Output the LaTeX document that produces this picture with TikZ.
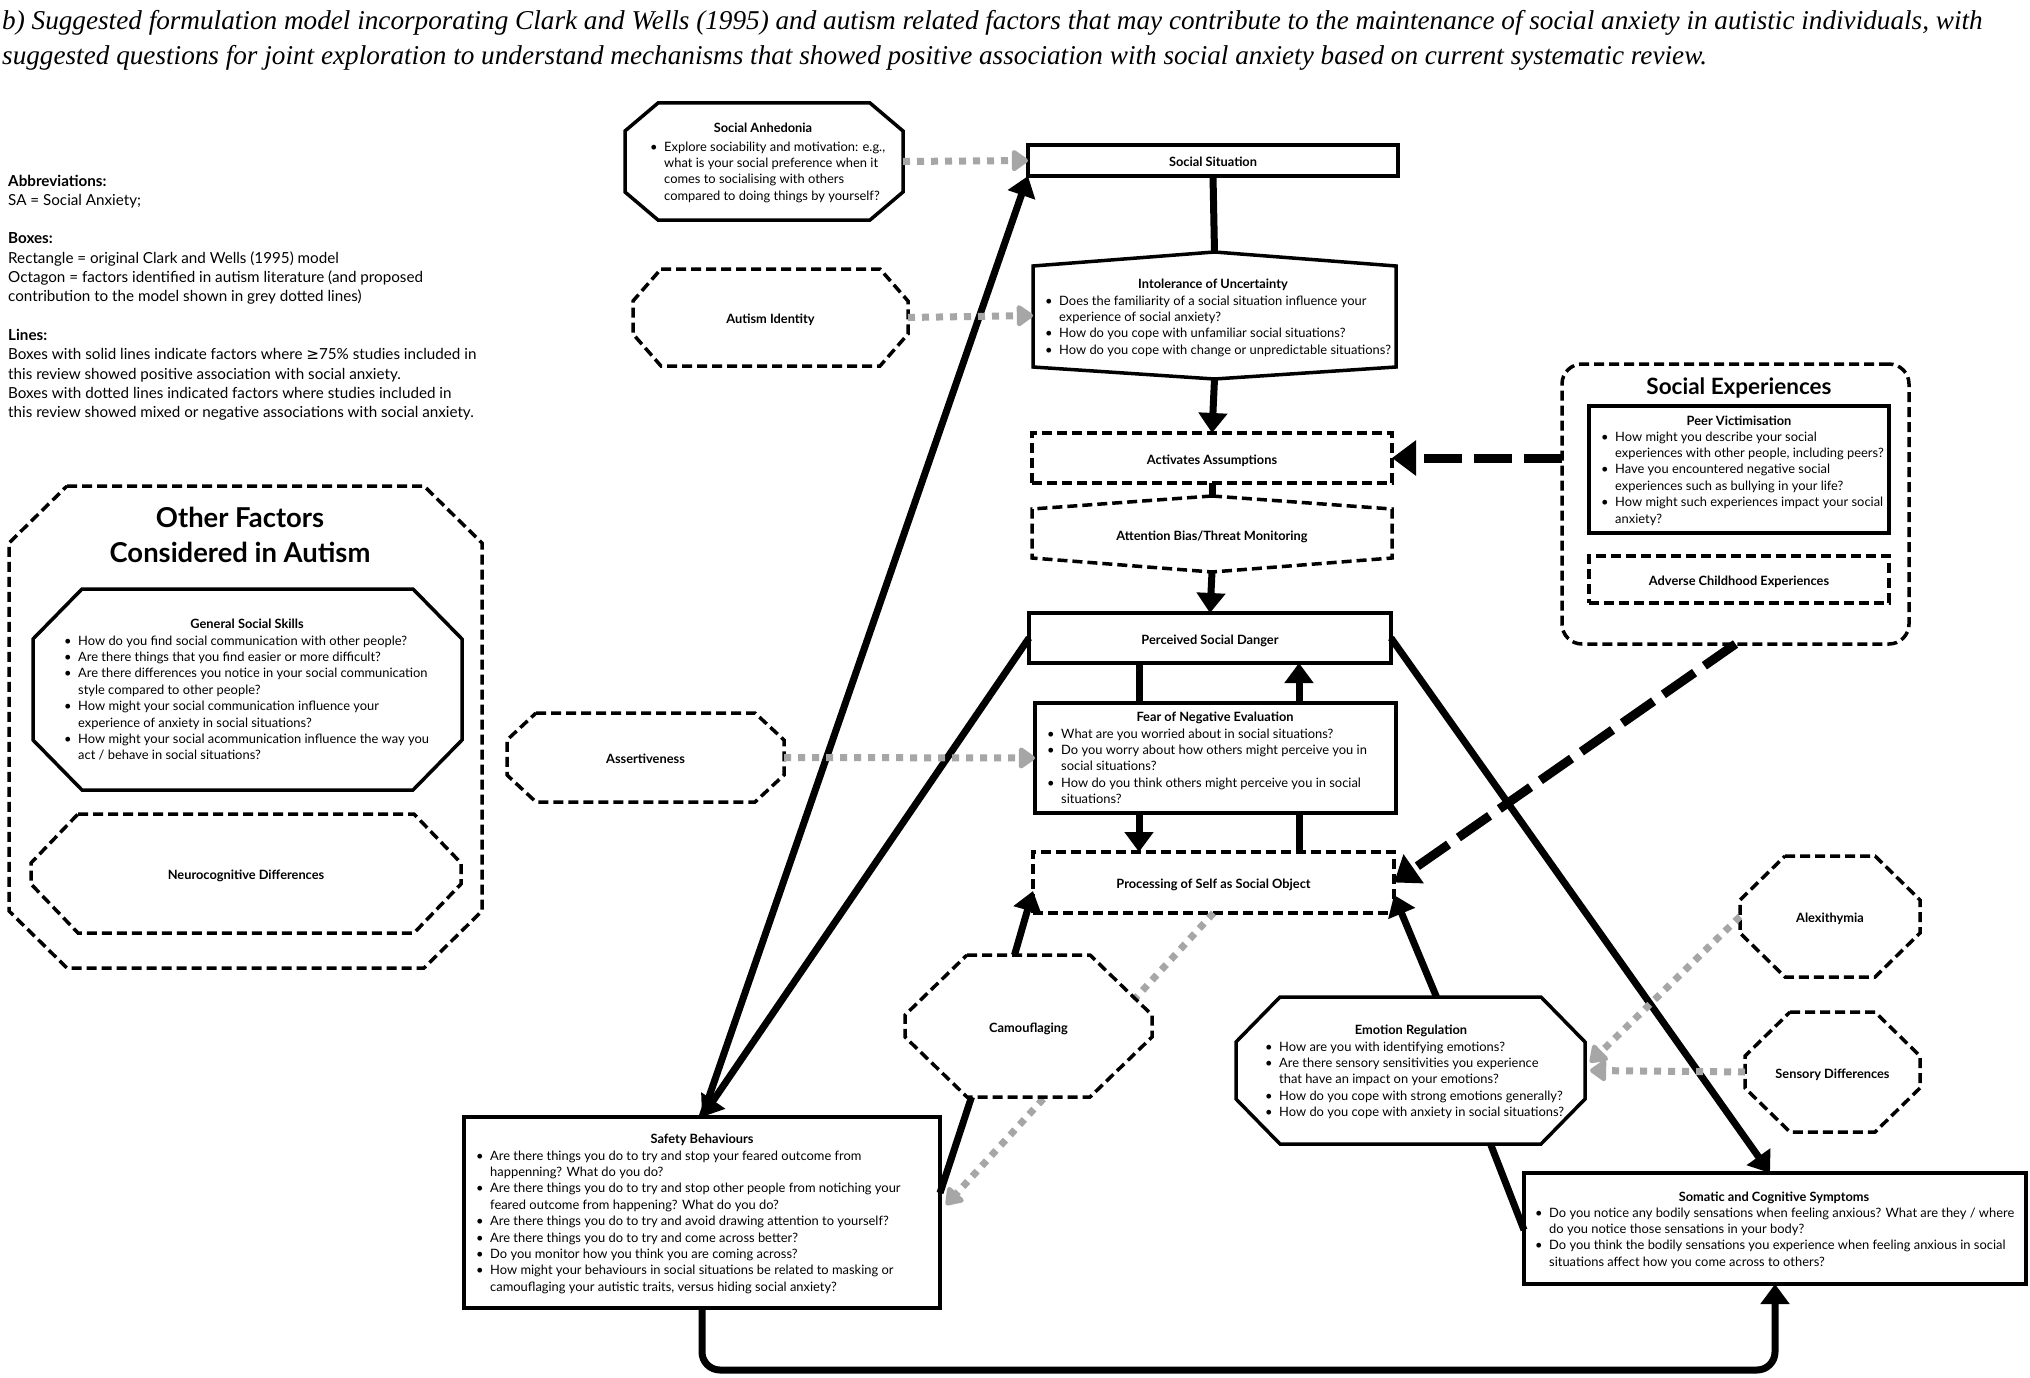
\documentclass[tikz,border=0pt]{standalone}
\usepackage{fontspec}
\setmainfont{Lato}
\newfontfamily\titlefont{Liberation Serif}
\newfontfamily\symfont{DejaVu Sans}
\usetikzlibrary{arrows.meta,fit,calc}
\definecolor{dotgray}{RGB}{166,166,166}
\newcommand\B{\makebox[14pt][l]{\textbullet}}
\newcommand\C{\hspace*{14pt}}
\newcommand\octo[4]{\draw[#4] ([xshift=#2pt]#1.north west) -- ([xshift=-#2pt]#1.north east) -- ([yshift=-#3pt]#1.north east) -- ([yshift=#3pt]#1.south east) -- ([xshift=-#2pt]#1.south east) -- ([xshift=#2pt]#1.south west) -- ([yshift=#3pt]#1.south west) -- ([yshift=-#3pt]#1.north west) -- cycle;}
\begin{document}
\begin{tikzpicture}[x=1pt,y=-1pt,
  box/.style={inner sep=0pt, outer sep=0pt},
  sbox/.style={box, draw, line width=3.5pt},
  dbox/.style={box, draw, line width=3.5pt, dash pattern=on 10pt off 5pt},
  lbl/.style={anchor=base, yshift=-6pt, inner sep=0pt, font=\bfseries\fontsize{12.8}{14}\selectfont},
  sline/.style={line width=3.5pt},
  dline/.style={line width=3.5pt, dash pattern=on 10pt off 5pt},
  conn/.style={line width=7pt},
  arr/.style={conn, -{Triangle[length=20pt,width=28pt]}},
  garr/.style={line width=7pt, dotgray, dash pattern=on 7pt off 7pt, -{Triangle[length=18pt,width=24pt,round]}},
  darr/.style={line width=9pt, dash pattern=on 38pt off 12pt, -{Triangle[length=24pt,width=34pt]}},
  bl/.style={anchor=base west, inner sep=0pt, align=left, font=\fontsize{12.9}{16.4}\selectfont},
  hd/.style={anchor=base, inner sep=0pt, font=\bfseries\fontsize{12.8}{14}\selectfont}]
\useasboundingbox (0,0) rectangle (2030,1378);
\fill[white] (0,0) rectangle (2030,1378);

% title (anchor = last line baseline)
\node[anchor=base west, inner sep=0pt, align=left, font=\titlefont\itshape\fontsize{27.2}{35}\selectfont] (title) at (2,65) {b) Suggested formulation model incorporating Clark and Wells (1995) and autism related factors that may contribute to the maintenance of social anxiety in autistic individuals, with\\suggested questions for joint exploration to understand mechanisms that showed positive association with social anxiety based on current systematic review.};

% legend
\node[anchor=base west, inner sep=0pt, align=left, font=\fontsize{15.2}{19.3}\selectfont] (legend) at (8,417.6) {\textbf{Abbreviations:}\\SA = Social Anxiety;\\[19.3pt]\textbf{Boxes:}\\Rectangle = original Clark and Wells (1995) model\\Octagon = factors identified in autism literature (and proposed\\contribution to the model shown in grey dotted lines)\\[19.3pt]\textbf{Lines:}\\Boxes with solid lines indicate factors where {\symfont ≥}75\% studies included in\\this review showed positive association with social anxiety.\\Boxes with dotted lines indicated factors where studies included in\\this review showed mixed or negative associations with social anxiety.};

% Other factors
\node[fit={(9,486)(482,968)}, box] (of) {};
\octo{of}{58}{57}{dline}
\node[anchor=center, align=center, inner sep=0pt, font=\bfseries\fontsize{27.4}{35}\selectfont] (oftitle) at (240,535) {Other Factors\\Considered in Autism};
\node[fit={(33,589)(462,790)}, box] (gss) {};
\octo{gss}{49}{50}{sline}
\node[hd] (gsst) at (247,628) {General Social Skills};
\node[bl] (gssb) at (64,759.8) {\B How do you find social communication with other people?\\\B Are there things that you find easier or more difficult?\\\B Are there differences you notice in your social communication\\\C style compared to other people?\\\B How might your social communication influence your\\\C experience of anxiety in social situations?\\\B How might your social acommunication influence the way you\\\C act / behave in social situations?};
\node[fit={(31,814)(461,933)}, box] (neuro) {};
\octo{neuro}{47}{49}{dline}
\node[lbl] (neurot) at (neuro.center) {Neurocognitive Differences};

% Social anhedonia
\node[fit={(625,103)(903,220)}, box] (sa) {};
\octo{sa}{33}{28}{sline}
\node[hd] (sat) at (763,133) {Social Anhedonia};
\node[bl] (sab) at (650,200.2) {\B Explore sociability and motivation: e.g.,\\\C what is your social preference when it\\\C comes to socialising with others\\\C compared to doing things by yourself?};

% Autism identity
\node[fit={(633,269)(908,366)}, box] (ai) {};
\octo{ai}{28}{32}{dline}
\node[lbl] (ait) at (ai.center) {Autism Identity};

% Social situation
\node[fit={(1028,145)(1398,176)}, sbox] (ss) {};
\node[lbl] (sst) at (ss.center) {Social Situation};

% IoU
\node[fit={(1033,252)(1396,379)}, box] (iou) {};
\draw[sline] (iou.north) -- ([yshift=-14pt]iou.north east) -- ([yshift=12pt]iou.south east) -- (iou.south) -- ([yshift=12pt]iou.south west) -- ([yshift=-14pt]iou.north west) -- cycle;
\node[hd] (iout) at (1213,288) {Intolerance of Uncertainty};
\node[bl] (ioub) at (1045,354.2) {\B Does the familiarity of a social situation influence your\\\C experience of social anxiety?\\\B How do you cope with unfamiliar social situations?\\\B How do you cope with change or unpredictable situations?};

% Activates assumptions & ATM
\node[fit={(1032,433)(1392,483)}, dbox] (aa) {};
\node[lbl] (aat) at (aa.center) {Activates Assumptions};
\node[fit={(1032,496)(1392,572)}, box] (atm) {};
\draw[dline] (atm.north) -- ([yshift=-13pt]atm.north east) -- ([yshift=14pt]atm.south east) -- (atm.south) -- ([yshift=14pt]atm.south west) -- ([yshift=-13pt]atm.north west) -- cycle;
\node[lbl] (atmt) at (atm.center) {Attention Bias/Threat Monitoring};

% PSD, FNE, PSOSO
\node[fit={(1029,613)(1391,663)}, sbox] (psd) {};
\node[lbl] (psdt) at (psd.center) {Perceived Social Danger};
\node[fit={(1035,703)(1396,813)}, sbox] (fne) {};
\node[hd] (fnet) at (1215,721) {Fear of Negative Evaluation};
\node[bl] (fneb) at (1047,803.6) {\B What are you worried about in social situations?\\\B Do you worry about how others might perceive you in\\\C social situations?\\\B How do you think others might perceive you in social\\\C situations?};
\node[fit={(1033,852)(1394,913)}, dbox] (pso) {};
\node[lbl] (psot) at (pso.center) {Processing of Self as Social Object};

% Assertiveness
\node[fit={(507,713)(784,802)}, box] (asr) {};
\octo{asr}{29}{27}{dline}
\node[lbl] (asrt) at (asr.center) {Assertiveness};

% Safety behaviours
\node[fit={(464,1117)(940,1308)}, sbox] (sb) {};
\node[hd] (sbt) at (702,1143) {Safety Behaviours};
\node[bl] (sbb) at (476,1291.2) {\B Are there things you do to try and stop your feared outcome from\\\C happenning? What do you do?\\\B Are there things you do to try and stop other people from notiching your\\\C feared outcome from happening? What do you do?\\\B Are there things you do to try and avoid drawing attention to yourself?\\\B Are there things you do to try and come across better?\\\B Do you monitor how you think you are coming across?\\\B How might your behaviours in social situations be related to masking or\\\C camouflaging your autistic traits, versus hiding social anxiety?};

% gray dotted line behind camouflaging
\draw[garr] (pso.south) -- ([xshift=6pt,yshift=-88pt]sb.north east);

% Camouflaging
\node[fit={(905,955)(1152,1097)}, box] (camo) {};
\octo{camo}{62}{60}{dline, fill=white}
\node[lbl] (camot) at (camo.center) {Camouflaging};

% Emotion regulation
\node[fit={(1236,997)(1585,1144)}, box] (er) {};
\octo{er}{44}{45}{sline}
\node[hd] (ert) at (1411,1034) {Emotion Regulation};
\node[bl] (erb) at (1265,1116.6) {\B How are you with identifying emotions?\\\B Are there sensory sensitivities you experience\\\C that have an impact on your emotions?\\\B How do you cope with strong emotions generally?\\\B How do you cope with anxiety in social situations?};

% Alexithymia, Sensory
\node[fit={(1740,856)(1920,977)}, box] (alex) {};
\octo{alex}{45}{44}{dline}
\node[lbl] (alext) at (alex.center) {Alexithymia};
\node[fit={(1745,1012)(1920,1132)}, box] (sens) {};
\octo{sens}{45}{44}{dline}
\node[lbl] (senst) at (sens.center) {Sensory Differences};

% Somatic
\node[fit={(1524,1173)(2026,1284)}, sbox] (som) {};
\node[hd] (somt) at (1774,1201) {Somatic and Cognitive Symptoms};
\node[bl] (somb) at (1535,1266.2) {\B Do you notice any bodily sensations when feeling anxious? What are they / where\\\C do you notice those sensations in your body?\\\B Do you think the bodily sensations you experience when feeling anxious in social\\\C situations affect how you come across to others?};

% Social experiences
\node[fit={(1562,364)(1909,644)}, dbox, rounded corners=20pt] (se) {};
\node[anchor=center, inner sep=0pt, font=\bfseries\fontsize{22.5}{24}\selectfont] (set) at (1739,388) {Social Experiences};
\node[fit={(1589,406)(1889,533)}, sbox] (peer) {};
\node[hd] (peert) at (1739,425) {Peer Victimisation};
\node[bl] (peerb) at (1601,523) {\B How might you describe your social\\\C experiences with other people, including peers?\\\B Have you encountered negative social\\\C experiences such as bullying in your life?\\\B How might such experiences impact your social\\\C anxiety?};
\node[fit={(1589,556)(1889,603)}, dbox] (adv) {};
\node[lbl] (advt) at (adv.center) {Adverse Childhood Experiences};

% connectors
\coordinate (xl) at (1139,0);
\coordinate (xr) at (1299,0);
\draw[conn] (ss.south) -- (iou.north);
\draw[arr] (iou.south) -- (aa.north);
\draw[conn] (aa.south) -- (atm.north);
\draw[arr] (atm.south) -- (psd.north);
\draw[conn] (psd.south -| xl) -- (fne.north -| xl);
\draw[arr] (fne.north -| xr) -- (psd.south -| xr);
\draw[arr] (fne.south -| xl) -- (pso.north -| xl);
\draw[conn] (pso.north -| xr) -- (fne.south -| xr);
\draw[arr] (psd.west) -- (sb.north);
\draw[arr] (sb.north) -- (ss.south west);
\draw[arr] (psd.east) -- ([xshift=-5pt]som.north);
\draw[arr, rounded corners=18pt] (sb.south) -- ++(0,62) -| (som.south);
\draw[conn] ([yshift=-57pt]som.north west) -- ([xshift=80pt]er.south);
\draw[arr] ([xshift=26pt]er.north) -- ([yshift=18pt]pso.south east);
\draw[arr] ([xshift=-14pt]camo.north) -- ([yshift=22pt]pso.south west);
\draw[conn] ([yshift=-76pt]sb.north east) -- ([xshift=-57pt]camo.south);
\draw[garr] (sa.east) -- (ss.west);
\draw[garr] (ai.east) -- (iou.west);
\draw[garr] (asr.east) -- (fne.west);
\draw[garr] (alex.west) -- ([xshift=5pt,yshift=8pt]er.east);
\draw[garr] (sens.west) -- ([xshift=5pt]er.east);
\draw[darr] ([yshift=46pt]se.west) -- (aa.east);
\draw[darr] (se.south) -- (pso.east);
\end{tikzpicture}
\end{document}
